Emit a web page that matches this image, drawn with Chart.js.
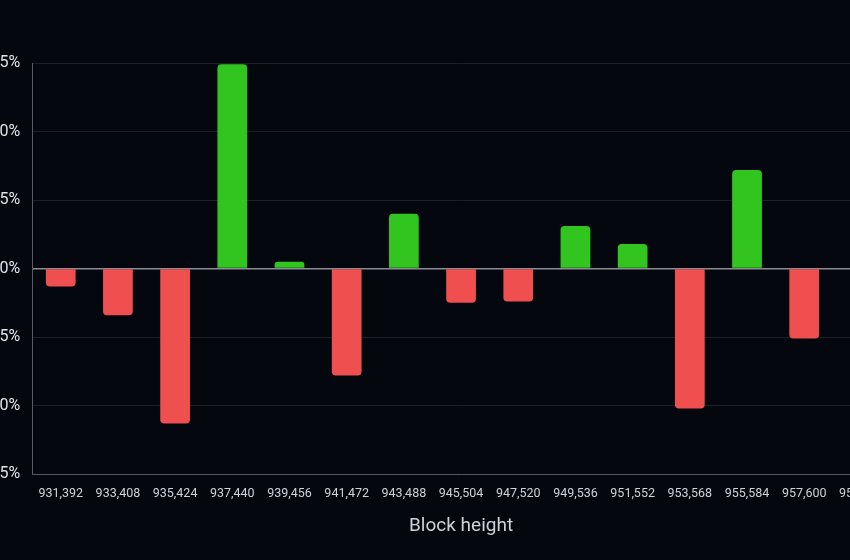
<!DOCTYPE html>
<html>
<head>
<meta charset="utf-8">
<script src="https://cdn.jsdelivr.net/npm/chart.js@4.4.1/dist/chart.umd.min.js"></script>
<style>
  html, body { margin: 0; padding: 0; background: #05070f; overflow: hidden; }
  #wrap { position: absolute; left: -40px; top: 0; width: 930px; height: 560px; }
</style>
</head>
<body>
<div id="wrap"><canvas id="chart"></canvas></div>
<script>
// Block heights and % change per bucket
const blocks = ['931,392', '933,408', '935,424', '937,440', '939,456', '941,472', '943,488',
  '945,504', '947,520', '949,536', '951,552', '953,568', '955,584', '957,600', '959,616'];
const changes = [-1.3, -3.4, -11.3, 14.9, 0.5, -7.8, 4.0, -2.5, -2.4, 3.1, 1.8, -10.2, 7.2, -5.1, 0];
const yTicks = [15, 10, 5, 0, -5, -10, -15];

const GREEN = '#33c51f';
const RED = '#f04f4f';

new Chart(document.getElementById('chart'), {
  type: 'bar',
  data: {
    labels: blocks,
    datasets: [{
      data: changes,
      backgroundColor: changes.map(v => v >= 0 ? GREEN : RED),
      borderRadius: 4,
      borderSkipped: 'start',
      barPercentage: 0.65,
      categoryPercentage: 0.8
    }]
  },
  options: {
    responsive: true,
    maintainAspectRatio: false,
    animation: false,
    layout: { padding: { left: 14, right: 0, top: 63, bottom: 18 } },
    plugins: { legend: { display: false }, tooltip: { enabled: false } },
    scales: {
      x: {
        grid: { display: false },
        border: { color: '#555a63', width: 1 },
        ticks: { color: '#d0d2d6', font: { family: 'Roboto', size: 12.5 }, padding: 4, maxRotation: 0, autoSkip: false },
        title: { display: true, text: 'Block height', color: '#cfd1d5', font: { family: 'Roboto', size: 19 }, padding: { top: 10 } }
      },
      y: {
        min: -15,
        max: 15,
        afterBuildTicks: axis => { axis.ticks = yTicks.map(v => ({ value: v })); },
        grid: {
          drawTicks: false,
          color: ctx => ctx.tick && ctx.tick.value === 0 ? '#8a8d94' : '#1c202b',
          lineWidth: ctx => ctx.tick && ctx.tick.value === 0 ? 1.5 : 1
        },
        border: { color: '#555a63', width: 1 },
        ticks: { color: '#e2e3e6', font: { family: 'Roboto', size: 16 }, padding: 12, callback: v => v + '%' }
      }
    }
  }
});
</script>
</body>
</html>
